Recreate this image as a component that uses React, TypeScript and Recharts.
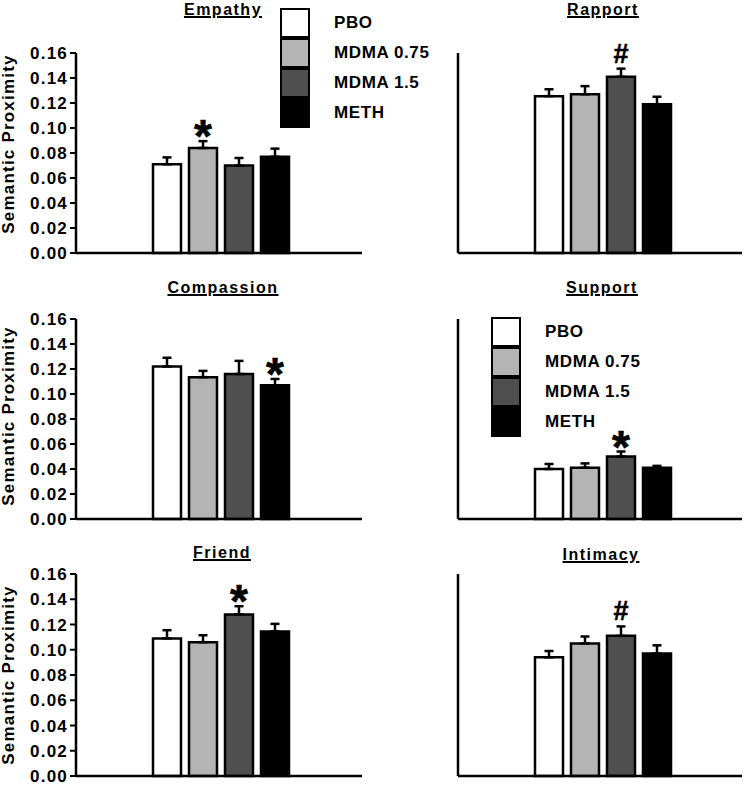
import React from 'react';
import { BarChart, Bar, XAxis, YAxis, ErrorBar, Legend } from 'recharts';

const FONT = '"Liberation Sans", Arial, Helvetica, sans-serif';

// ---- data ----
const groups = ['PBO', 'MDMA 0.75', 'MDMA 1.5', 'METH'];
const yTicks = [0, 0.02, 0.04, 0.06, 0.08, 0.1, 0.12, 0.14, 0.16];

const empathyMean = [0.071, 0.084, 0.070, 0.077];
const empathyErr = [0.0055, 0.0055, 0.006, 0.0065];
const empathyMark = ['', '*', '', ''];

const rapportMean = [0.1255, 0.127, 0.141, 0.119];
const rapportErr = [0.0055, 0.0065, 0.0065, 0.006];
const rapportMark = ['', '', '#', ''];

const compassionMean = [0.122, 0.1135, 0.116, 0.107];
const compassionErr = [0.007, 0.005, 0.0105, 0.005];
const compassionMark = ['', '', '', '*'];

const supportMean = [0.040, 0.041, 0.050, 0.041];
const supportErr = [0.004, 0.0035, 0.004, 0.0015];
const supportMark = ['', '', '*', ''];

const friendMean = [0.109, 0.106, 0.128, 0.1145];
const friendErr = [0.0065, 0.0055, 0.0065, 0.006];
const friendMark = ['', '', '*', ''];

const intimacyMean = [0.094, 0.105, 0.111, 0.097];
const intimacyErr = [0.005, 0.0055, 0.0075, 0.0065];
const intimacyMark = ['', '', '#', ''];

// ---- styling ----
const keys = ['pbo', 'm075', 'm15', 'meth'];
const fills = ['#ffffff', '#b4b4b4', '#4f4f4f', '#000000'];

function buildRow(means: number[], errs: number[]) {
  const row: any = { name: 'g' };
  keys.forEach((k, i) => {
    row[k] = means[i];
    row[k + 'Err'] = [0, errs[i]];
  });
  return [row];
}

const makeMark = (mark: string, err: number) => (p: any) => {
  const { x, y, width, height, value } = p;
  const v = Array.isArray(value) ? value[1] : value;
  const pxPer = Number(height) / Number(v);
  const top = Number(y) - err * pxPer;
  const cx = Number(x) + Number(width) / 2;
  if (mark === '*') {
    return (
      <text x={cx} y={top + 11} textAnchor="middle" fontSize={46} fontWeight="bold" fontFamily={FONT} fill="#000" stroke="#000" strokeWidth={0.6}>
        *
      </text>
    );
  }
  return (
    <text x={cx} y={top - 6} textAnchor="middle" fontSize={27} fontWeight="bold" fontFamily={FONT} fill="#000" stroke="#000" strokeWidth={0.5}>
      #
    </text>
  );
};

const LegendBlock = () => (
  <div style={{ fontFamily: FONT }}>
    {groups.map((g, i) => (
      <div key={g} style={{ display: 'flex', alignItems: 'center', height: 30 }}>
        <div
          style={{
            width: 30,
            height: 30,
            boxSizing: 'border-box',
            border: '2.5px solid #000',
            background: fills[i],
          }}
        />
        <span style={{ marginLeft: 24, fontSize: 17, fontWeight: 'bold', letterSpacing: 0.6, color: '#000', whiteSpace: 'nowrap' }}>
          {g}
        </span>
      </div>
    ))}
  </div>
);

const makeYLabel = (dy: number) => (props: any) => {
  const vb = props.viewBox || { x: 0, y: 0, width: 0, height: 0 };
  const cx = vb.x + 14;
  const cy = vb.y + vb.height / 2 + dy;
  return (
    <text
      x={cx}
      y={cy}
      transform={`rotate(-90 ${cx} ${cy})`}
      textAnchor="middle"
      fontSize={17}
      fontWeight="bold"
      fontFamily={FONT}
      letterSpacing={1.2}
      fill="#000"
    >
      Semantic Proximity
    </text>
  );
};

type PanelProps = {
  left: number;
  top: number;
  width: number;
  height: number;
  margin: { top: number; right: number; bottom: number; left: number };
  yWidth: number;
  padLeft: number;
  showLabels: boolean;
  labelDy: number;
  means: number[];
  errs: number[];
  marks: string[];
  legendPos?: { left: number; top: number };
};

function Panel(p: PanelProps) {
  const data = buildRow(p.means, p.errs);
  return (
    <div style={{ position: 'absolute', left: p.left, top: p.top }}>
      <BarChart width={p.width} height={p.height} data={data} margin={p.margin} barGap={8}>
        <XAxis
          dataKey="name"
          tick={false}
          tickLine={false}
          axisLine={{ stroke: '#000', strokeWidth: 2.5 }}
          height={2}
          padding={{ left: p.padLeft, right: 0 }}
        />
        <YAxis
          domain={[0, 0.16]}
          ticks={yTicks}
          interval={0}
          width={p.yWidth}
          tickFormatter={(v: number) => v.toFixed(2)}
          axisLine={{ stroke: '#000', strokeWidth: 2.5 }}
          tickLine={{ stroke: '#000', strokeWidth: 2 }}
          tickSize={6}
          tickMargin={2}
          tick={
            p.showLabels
              ? { fill: '#000', fontSize: 17, fontWeight: 'bold', fontFamily: FONT, letterSpacing: 1.2 }
              : false
          }
          label={p.showLabels ? makeYLabel(p.labelDy) : undefined}
        />
        {keys.map((k, i) => (
          <Bar
            key={k}
            dataKey={k}
            fill={fills[i]}
            stroke="#000"
            strokeWidth={2.5}
            barSize={28}
            isAnimationActive={false}
            label={p.marks[i] ? makeMark(p.marks[i], p.errs[i]) : false}
          >
            <ErrorBar dataKey={k + 'Err'} width={4.5} strokeWidth={2.5} stroke="#000" direction="y" />
          </Bar>
        ))}
        {p.legendPos ? (
          <Legend
            layout="horizontal"
            verticalAlign="middle"
            align="center"
            content={() => <LegendBlock />}
            wrapperStyle={{ position: 'absolute', left: p.legendPos.left, top: p.legendPos.top, width: 'auto', height: 'auto' }}
          />
        ) : null}
      </BarChart>
    </div>
  );
}

const titleStyle = (cx: number, baseline: number): React.CSSProperties => ({
  position: 'absolute',
  left: cx - 100,
  width: 200,
  top: baseline - 13.5,
  lineHeight: '16px',
  textAlign: 'center',
  fontFamily: FONT,
  fontWeight: 'bold',
  fontSize: 16,
  letterSpacing: 1.5,
  textDecoration: 'underline',
  textDecorationThickness: '1.5px',
  color: '#000',
});

export default function App() {
  return (
    <div style={{ position: 'absolute', left: 0, top: 0, width: 748, height: 785, background: '#fff', overflow: 'hidden' }}>
      <Panel
        left={0} top={0} width={375} height={266}
        margin={{ top: 53, right: 13, bottom: 11, left: 0 }}
        yWidth={76} padLeft={4} showLabels labelDy={-9}
        means={empathyMean} errs={empathyErr} marks={empathyMark}
        legendPos={{ left: 280, top: 8 }}
      />
      <Panel
        left={380} top={0} width={368} height={266}
        margin={{ top: 53, right: 6, bottom: 11, left: 0 }}
        yWidth={78} padLeft={5} showLabels={false} labelDy={0}
        means={rapportMean} errs={rapportErr} marks={rapportMark}
      />
      <Panel
        left={0} top={270} width={375} height={260}
        margin={{ top: 49, right: 13, bottom: 9, left: 0 }}
        yWidth={76} padLeft={4} showLabels labelDy={-3}
        means={compassionMean} errs={compassionErr} marks={compassionMark}
      />
      <Panel
        left={380} top={270} width={368} height={260}
        margin={{ top: 49, right: 6, bottom: 9, left: 0 }}
        yWidth={78} padLeft={5} showLabels={false} labelDy={0}
        means={supportMean} errs={supportErr} marks={supportMark}
        legendPos={{ left: 111, top: 47 }}
      />
      <Panel
        left={0} top={530} width={375} height={255}
        margin={{ top: 44, right: 13, bottom: 7, left: 0 }}
        yWidth={76} padLeft={4} showLabels labelDy={0}
        means={friendMean} errs={friendErr} marks={friendMark}
      />
      <Panel
        left={380} top={530} width={368} height={255}
        margin={{ top: 44, right: 6, bottom: 7, left: 0 }}
        yWidth={78} padLeft={5} showLabels={false} labelDy={0}
        means={intimacyMean} errs={intimacyErr} marks={intimacyMark}
      />
      <div style={titleStyle(223, 15)}>Empathy</div>
      <div style={titleStyle(603, 15)}>Rapport</div>
      <div style={titleStyle(223, 293)}>Compassion</div>
      <div style={titleStyle(602, 293)}>Support</div>
      <div style={titleStyle(222, 558)}>Friend</div>
      <div style={titleStyle(601, 560)}>Intimacy</div>
    </div>
  );
}
